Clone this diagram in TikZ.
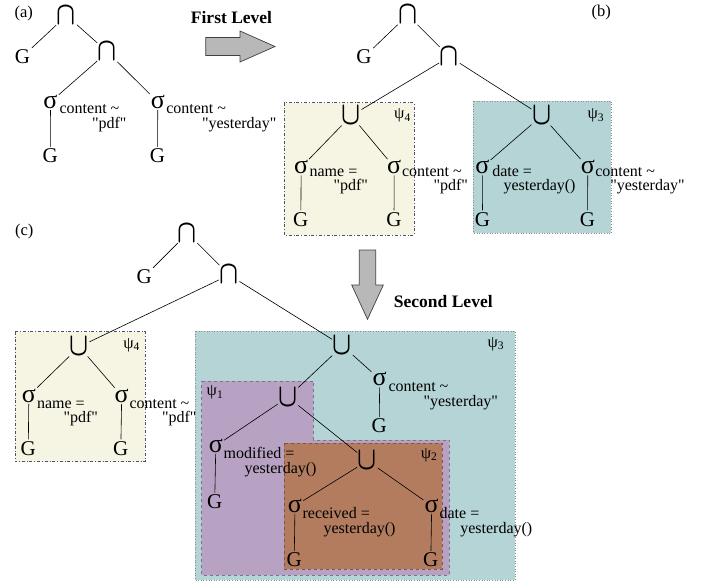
\documentclass[tikz,border=0pt]{standalone}
\usepackage{fontspec}
\setmainfont{Liberation Serif}

\definecolor{psifour}{HTML}{F6F4E3}
\definecolor{psithree}{HTML}{B5D4D5}
\definecolor{psione}{HTML}{B8A2C3}
\definecolor{psitwo}{HTML}{B37C5F}
\definecolor{psifourline}{HTML}{50506A}

\newcommand{\capop}{\scalebox{1}[1.3]{$\cap$}}
\newcommand{\cupop}{\scalebox{1}[1.3]{$\cup$}}
\newcommand{\qt}[1]{\textquotedbl#1\textquotedbl}

\tikzset{
  opnode/.style={inner sep=0.5pt, font=\fontsize{23}{23}\selectfont\boldmath},
  selnode/.style={inner sep=1pt, font=\fontsize{26}{26}\selectfont},
  gnode/.style={inner sep=1.5pt, font=\fontsize{21}{21}\selectfont},
  condtext/.style={inner sep=0pt, anchor=base west, font=\fontsize{16}{16}\selectfont},
  psilabel/.style={inner sep=0pt, font=\fontsize{16.5}{16.5}\selectfont},
  panellabel/.style={inner sep=0pt, font=\fontsize{16.5}{16.5}\selectfont},
  levellabel/.style={inner sep=0pt, font=\bfseries\fontsize{17.5}{17.5}\selectfont},
  levelarrow/.style={draw=black!75, fill=black!28, line width=0.7pt},
  box4/.style={draw=psifourline, fill=psifour, dash dot, line width=0.6pt},
  box3/.style={draw=black!45, fill=psithree, dotted, line width=0.6pt},
  box1/.style={draw=psione!70!black, fill=psione, dashed, line width=0.6pt},
  box2/.style={draw=psitwo!70!black, fill=psitwo, dashed, line width=0.6pt},
}

\begin{document}
\begin{tikzpicture}[x=1pt, y=-1pt, line width=0.6pt]
  \useasboundingbox (0,0) rectangle (711,585);

  % boxes
  \draw[box4] (284,102.7) rectangle (414,235);
  \draw[box3] (473.3,101) rectangle (611,233);
  \draw[box4] (15,331.7) rectangle (145,461.7);
  \draw[box3] (195,331) rectangle (515,580);
  \draw[box1] (201.7,381) -- (313.3,381) -- (313.3,440) -- (449.3,440)
    -- (449.3,575) -- (201.7,575) -- cycle;
  \draw[box2] (284.3,443.3) rectangle (442.3,569.3);

  % level arrows
  \draw[levelarrow] (205.7,37.5) -- (240,37.5) -- (240,31) -- (275,46.5)
    -- (240,62) -- (240,55.5) -- (205.7,55.5) -- cycle;
  \draw[levelarrow] (359.3,250) -- (375.7,250) -- (375.7,285) -- (383.3,285)
    -- (367.5,319.3) -- (351.7,285) -- (359.3,285) -- cycle;
  \node[levellabel] (first) at (231.5,17.5) {First Level};
  \node[levellabel] (second) at (443.3,302) {Second Level};

  \node[panellabel] (pa) at (23.7,14) {(a)};
  \node[panellabel] (pb) at (601.2,13) {(b)};
  \node[panellabel] (pc) at (24.2,231.7) {(c)};

  % (a)
  \node[opnode] (a1) at (66.5,15.5) {\capop};
  \node[gnode] (ag0) at (22.5,56.7) {G};
  \node[opnode] (a2) at (107.5,52) {\capop};
  \node[selnode] (as1) at (50.5,102) {σ};
  \node[condtext] (as1t) at (59.3,114) {content \textasciitilde};
  \node[condtext] (as1u) at (91.7,129) {\qt{pdf}};
  \node[selnode] (as2) at (157.8,102) {σ};
  \node[condtext] (as2t) at (166,114) {content \textasciitilde};
  \node[condtext] (as2u) at (201.7,129) {\qt{yesterday}};
  \node[gnode] (ag1) at (50.3,155.8) {G};
  \node[gnode] (ag2) at (157.5,155.8) {G};
  \draw (a1) -- (ag0);
  \draw (a1) -- (a2);
  \draw (a2) -- (as1);
  \draw (a2) -- (as2);
  \draw (as1) -- (ag1);
  \draw (as2) -- (ag2);

  % (b)
  \node[opnode] (b1) at (407.8,15) {\capop};
  \node[gnode] (bg0) at (364,57) {G};
  \node[opnode] (b2) at (449.5,56.7) {\capop};
  \node[opnode] (bu4) at (351.2,115.7) {\cupop};
  \node[psilabel] (bpsi4) at (402.5,115.5) {ψ\textsubscript{4}};
  \node[selnode] (bs1) at (301.2,167.2) {σ};
  \node[condtext] (bs1t) at (309.3,177) {name =};
  \node[condtext] (bs1u) at (333.3,190.5) {\qt{pdf}};
  \node[selnode] (bs2) at (394.2,167.2) {σ};
  \node[condtext] (bs2t) at (401.7,177) {content \textasciitilde};
  \node[condtext] (bs2u) at (433.3,190.5) {\qt{pdf}};
  \node[gnode] (bg1) at (300.8,219.2) {G};
  \node[gnode] (bg2) at (394,219.2) {G};
  \node[opnode] (bu3) at (541.8,115.7) {\cupop};
  \node[psilabel] (bpsi3) at (595.8,115.5) {ψ\textsubscript{3}};
  \node[selnode] (bs3) at (482.3,167.2) {σ};
  \node[condtext] (bs3t) at (492,177) {date =};
  \node[condtext] (bs3u) at (503.3,190.5) {yesterday()};
  \node[selnode] (bs4) at (587.8,167.2) {σ};
  \node[condtext] (bs4t) at (595,177) {content \textasciitilde};
  \node[condtext] (bs4u) at (610,190.5) {\qt{yesterday}};
  \node[gnode] (bg3) at (482.5,219.2) {G};
  \node[gnode] (bg4) at (587.5,219.2) {G};
  \draw (b1) -- (bg0);
  \draw (b1) -- (b2);
  \draw (b2) -- (bu4);
  \draw (b2) -- (bu3);
  \draw (bu4) -- (bs1);
  \draw (bu4) -- (bs2);
  \draw (bs1) -- (bg1);
  \draw (bs2) -- (bg2);
  \draw (bu3) -- (bs3);
  \draw (bu3) -- (bs4);
  \draw (bs3) -- (bg3);
  \draw (bs4) -- (bg4);

  % (c)
  \node[opnode] (c1) at (187.5,233.3) {\capop};
  \node[gnode] (cg0) at (144.2,276.7) {G};
  \node[opnode] (c2) at (229.2,275) {\capop};
  \node[opnode] (cu4) at (79.2,346.7) {\cupop};
  \node[psilabel] (cpsi4) at (131.7,345) {ψ\textsubscript{4}};
  \node[selnode] (cs1) at (28.8,395.8) {σ};
  \node[condtext] (cs1t) at (36.7,408) {name =};
  \node[condtext] (cs1u) at (63.3,422) {\qt{pdf}};
  \node[selnode] (cs2) at (121.7,395.8) {σ};
  \node[condtext] (cs2t) at (129.3,408) {content \textasciitilde};
  \node[condtext] (cs2u) at (161.7,422) {\qt{pdf}};
  \node[gnode] (cg1) at (28.3,448.3) {G};
  \node[gnode] (cg2) at (120.8,448.3) {G};
  \node[opnode] (cu3) at (342.5,345.8) {\cupop};
  \node[psilabel] (cpsi3) at (495.8,344) {ψ\textsubscript{3}};
  \node[selnode] (cs3) at (379.7,379.2) {σ};
  \node[condtext] (cs3t) at (388.3,391.7) {content \textasciitilde};
  \node[condtext] (cs3u) at (423.3,406) {\qt{yesterday}};
  \node[gnode] (cg3) at (379.2,425.8) {G};
  \node[opnode] (cu1) at (288,397.2) {\cupop};
  \node[psilabel] (cpsi1) at (215,392.5) {ψ\textsubscript{1}};
  \node[selnode] (cs4) at (215.8,445.8) {σ};
  \node[condtext] (cs4t) at (223.3,458.3) {modified =};
  \node[condtext] (cs4u) at (244.3,473.3) {yesterday()};
  \node[gnode] (cg4) at (214.7,501.7) {G};
  \node[opnode] (cu2) at (367.5,460.8) {\cupop};
  \node[psilabel] (cpsi2) at (429.2,455) {ψ\textsubscript{2}};
  \node[selnode] (cs5) at (295,505.8) {σ};
  \node[condtext] (cs5t) at (302.3,518.3) {received =};
  \node[condtext] (cs5u) at (323.3,533.3) {yesterday()};
  \node[selnode] (cs6) at (431.7,505.8) {σ};
  \node[condtext] (cs6t) at (439.3,518.3) {date =};
  \node[condtext] (cs6u) at (460,533.3) {yesterday()};
  \node[gnode] (cg5) at (294.2,560) {G};
  \node[gnode] (cg6) at (430.8,560) {G};
  \draw (c1) -- (cg0);
  \draw (c1) -- (c2);
  \draw (c2) -- (cu4);
  \draw (c2) -- (cu3);
  \draw (cu4) -- (cs1);
  \draw (cu4) -- (cs2);
  \draw (cs1) -- (cg1);
  \draw (cs2) -- (cg2);
  \draw (cu3) -- (cu1);
  \draw (cu3) -- (cs3);
  \draw (cs3) -- (cg3);
  \draw (cu1) -- (cs4);
  \draw (cu1) -- (cu2);
  \draw (cs4) -- (cg4);
  \draw (cu2) -- (cs5);
  \draw (cu2) -- (cs6);
  \draw (cs5) -- (cg5);
  \draw (cs6) -- (cg6);
\end{tikzpicture}
\end{document}
